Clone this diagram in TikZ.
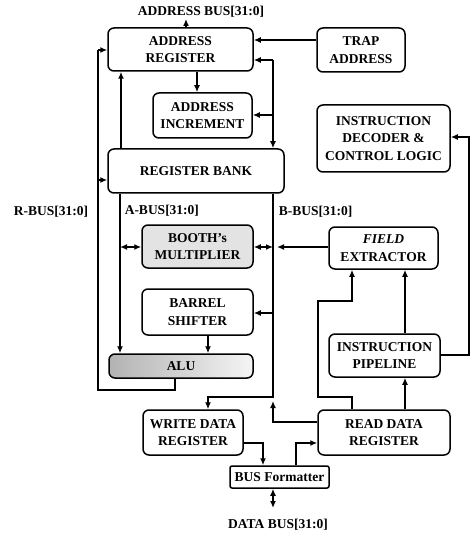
\documentclass[tikz,border=0pt]{standalone}
\usepackage{fontspec}
\setmainfont{Liberation Serif}
\usetikzlibrary{arrows.meta}
\begin{document}
\begin{tikzpicture}[x=1pt,y=-1pt,
  line width=1.5pt,
  every node/.style={font=\bfseries\fontsize{13.5}{17.5}\selectfont, align=center, inner sep=0pt},
  blk/.style={draw, rounded corners=6pt},
  arr/.style={-{Latex[length=7pt,width=6pt]}},
  dbl/.style={{Latex[length=7pt,width=6pt]}-{Latex[length=7pt,width=6pt]}},
  lbl/.style={}
]
\useasboundingbox (0,0) rectangle (471,537);

% boxes
\node[blk, minimum width=145, minimum height=43] (areg) at (180.5,49.5) {ADDRESS\\REGISTER};
\node[blk, minimum width=88, minimum height=44] (trap) at (361,50) {TRAP\\ADDRESS};
\node[blk, minimum width=99, minimum height=45] (ainc) at (202.5,115.5) {ADDRESS\\INCREMENT};
\node[blk, minimum width=176, minimum height=44] (regbank) at (196,171) {REGISTER BANK};
\node[blk, minimum width=133, minimum height=67] (idec) at (383.5,138.5) {INSTRUCTION\\DECODER \&\\CONTROL LOGIC};
\node[blk, fill=gray!22, minimum width=111, minimum height=43] (booth) at (197.5,246.5) {BOOTH's\\MULTIPLIER};
\node[blk, minimum width=109, minimum height=42] (field) at (383.5,248) {\textit{FIELD}\\EXTRACTOR};
\node[blk, minimum width=111, minimum height=46] (barrel) at (197.5,312) {BARREL\\SHIFTER};
\node[blk, left color=gray!60, right color=gray!8, minimum width=144, minimum height=24] (alu) at (181,366) {ALU};
\node[blk, minimum width=111, minimum height=43] (ipipe) at (384.5,355.5) {INSTRUCTION\\PIPELINE};
\node[blk, minimum width=100, minimum height=45] (wdata) at (193,432.5) {WRITE DATA\\REGISTER};
\node[blk, minimum width=132, minimum height=45] (rdata) at (384,432.5) {READ DATA\\REGISTER};
\node[draw, rounded corners=2pt, minimum width=99, minimum height=22] (busfmt) at (279.5,477) {BUS Formatter};

% labels
\node[lbl] (abuslbl) at (201,12) {ADDRESS BUS[31:0]};
\node[lbl] (rbuslbl) at (51,212) {R-BUS[31:0]};
\node[lbl, anchor=west] (abus) at (124,211) {A-BUS[31:0]};
\node[lbl, anchor=west] (bbus) at (278,212) {B-BUS[31:0]};
\node[lbl] (dbuslbl) at (278,525) {DATA BUS[31:0]};

% address bus
\draw[arr] (areg.north -| 186,0) -- (186,19);
% trap -> address register
\draw[arr] (trap.west |- 0,40) -- (areg.east |- 0,40);
% incrementer feedback line
\draw[arr] (273,60) -- (areg.east |- 0,60);
\draw[arr] (273,115) -- (ainc.east |- 0,115);
\draw[arr] (273,60) -- (regbank.north -| 273,0);
% address register -> incrementer
\draw[arr] (areg.south -| 197,0) -- (ainc.north -| 197,0);
% register bank -> address register
\draw[arr] (regbank.north -| 121,0) -- (areg.south -| 121,0);
% R-bus (ALU result)
\draw (alu.south -| 175,0) -- (175,390) -- (98,390) -- (98,50);
\draw[arr] (98,50) -- (areg.west |- 0,50);
\draw[arr] (98,180) -- (regbank.west |- 0,180);
% A-bus
\draw[arr] (regbank.south -| 120,0) -- (alu.north -| 120,0);
\draw[dbl] (120,247) -- (booth.west |- 0,247);
% B-bus
\draw[arr] (regbank.south -| 273,0) -- (273,397) -| (wdata.north -| 208,0);
\draw[dbl] (booth.east |- 0,247) -- (273,247);
\draw[arr] (field.west |- 0,247) -- (277,247);
\draw[arr] (273,313) -- (barrel.east |- 0,313);
% barrel -> ALU
\draw[arr] (barrel.south -| 208,0) -- (alu.north -| 208,0);
% read data -> B-bus
\draw[arr] (rdata.west |- 0,422) -| (273,401);
% read data -> field extractor
\draw[arr] (rdata.north -| 352,0) -- (352,397) -- (318,397) -- (318,301) -| (field.south -| 352,0);
% pipeline -> field extractor
\draw[arr] (ipipe.north -| 405,0) -- (field.south -| 405,0);
% read data -> pipeline
\draw[arr] (rdata.north -| 405,0) -- (ipipe.south -| 405,0);
% pipeline -> decoder
\draw[arr] (ipipe.east |- 0,355) -- (469,355) -- (469,137) -- (idec.east |- 0,137);
% write data -> bus formatter
\draw[arr] (wdata.east |- 0,443) -- (263,443) -- (busfmt.north -| 263,0);
% bus formatter -> read data
\draw[arr] (busfmt.north -| 296,0) -- (296,443) -- (rdata.west |- 0,443);
% data bus
\draw[dbl] (busfmt.south -| 273,0) -- (273,508);
\end{tikzpicture}
\end{document}
